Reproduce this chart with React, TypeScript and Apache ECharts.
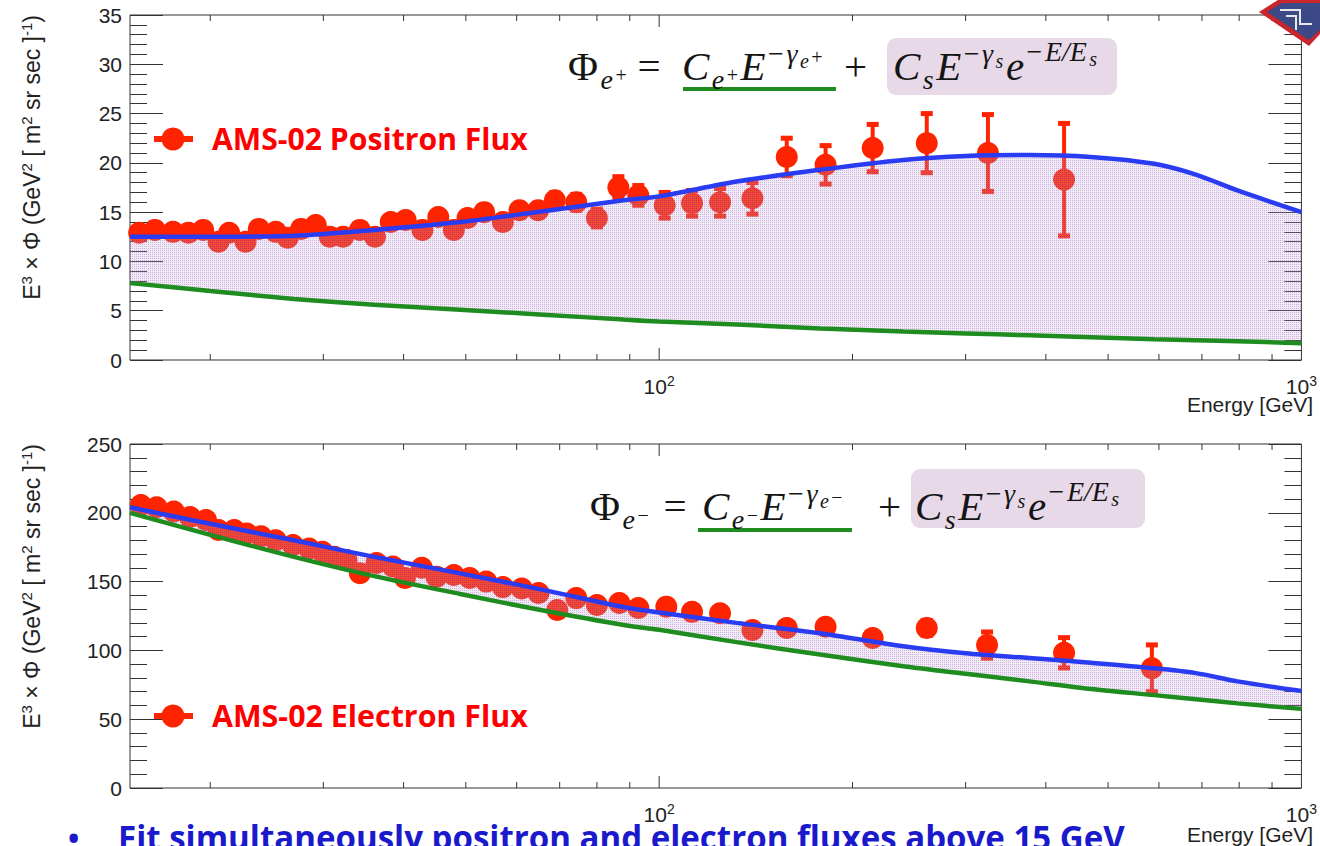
import React, { useEffect, useRef } from "react";
import * as echarts from "echarts";

// ---------------- data ----------------
const energyTicks = [20, 30, 40, 50, 60, 70, 80, 90, 100, 200, 300, 400, 500, 600, 700, 800, 900];
const energyMajorTicks = [100, 1000];
const energyLabels = [100, 1000];
const energyRange = [15, 1000];

const positronYTicks = [0, 5, 10, 15, 20, 25, 30, 35];
const electronYTicks = [0, 50, 100, 150, 200, 250];

// fit curves (sampled on a common energy grid)
const curveEnergy = [15, 20, 27, 36, 49, 66, 88, 100, 132, 178, 240, 300, 377, 470, 590, 685, 795, 1000];
const positronFitTotal = [12.5, 12.5, 12.6, 13.2, 14.0, 15.1, 16.2, 16.6, 18.1, 19.3, 20.3, 20.7, 20.8, 20.6, 19.9, 18.8, 17.2, 15.0];
const positronFitPrimary = [7.8, 7.0, 6.2, 5.6, 5.1, 4.6, 4.1, 3.9, 3.6, 3.2, 2.9, 2.7, 2.5, 2.3, 2.1, 2.0, 1.9, 1.7];
const electronFitTotal = [204, 192, 180, 168, 156, 144, 131.5, 127.5, 120, 112.5, 103, 98, 94.5, 91, 87, 83.5, 77.5, 70.5];
const electronFitPrimary = [200, 184, 168, 154, 141, 129, 118.5, 115, 106, 97, 88.5, 83, 77.5, 72, 67.5, 64.5, 61.5, 57.5];

// AMS-02 positron flux x E^3
const positronEnergy = [15.5, 16.4, 17.5, 18.5, 19.5, 20.6, 21.4, 22.7, 23.8, 25.3, 26.4, 27.7, 29.2, 30.7, 32.2, 34.2, 36.1, 38.2, 40.3, 42.8, 45.3, 47.9, 50.3, 53.4, 57.1, 60.6, 64.8, 68.8, 74.3, 80.0, 86.4, 92.8, 102, 112.5, 124.4, 139.7, 158, 181.6, 215, 261, 325, 427];
const positronFlux = [12.9, 13.2, 13.0, 12.9, 13.2, 12.0, 12.9, 12.0, 13.3, 13.0, 12.4, 13.3, 13.7, 12.5, 12.5, 13.2, 12.5, 14.0, 14.2, 13.2, 14.5, 13.2, 14.4, 15.0, 14.0, 15.2, 15.2, 16.2, 16.0, 14.4, 17.5, 16.7, 15.7, 15.9, 16.0, 16.4, 20.6, 19.8, 21.5, 22.0, 21.0, 18.3];
const positronError = [0.3, 0.3, 0.3, 0.3, 0.3, 0.3, 0.3, 0.3, 0.3, 0.35, 0.35, 0.35, 0.4, 0.4, 0.4, 0.4, 0.45, 0.45, 0.5, 0.5, 0.55, 0.55, 0.6, 0.6, 0.65, 0.7, 0.7, 0.75, 0.8, 0.9, 1.1, 1.0, 1.3, 1.3, 1.4, 1.6, 1.9, 1.95, 2.4, 3.0, 3.9, 5.7];

// AMS-02 electron flux x E^3
const electronEnergy = [15.6, 16.5, 17.55, 18.6, 19.7, 20.6, 21.8, 22.8, 24.0, 25.3, 26.9, 28.5, 29.9, 31.2, 32.6, 34.2, 36.3, 38.5, 40.2, 42.7, 45.0, 47.9, 50.7, 53.8, 57.1, 61.1, 64.9, 69.4, 74.3, 80.0, 86.7, 92.8, 102.6, 112.5, 124.4, 139.7, 158, 181.6, 215, 261, 324, 427, 585];
const electronFlux = [205.6, 204, 201, 197, 194.8, 187.5, 187.5, 185, 183, 180, 176.6, 174, 171.7, 168, 165.7, 156, 163.5, 161, 152.6, 160, 153.6, 154.8, 152.6, 150, 146, 145, 141.7, 129.4, 138, 133, 134.4, 130.8, 131.8, 128, 127, 114.8, 116.3, 117.2, 109, 116.3, 103.9, 98.3, 87];
const electronError = [0.8, 0.8, 0.8, 0.8, 0.8, 0.8, 0.8, 0.8, 0.8, 0.8, 0.9, 0.9, 0.9, 0.9, 0.9, 1.0, 1.0, 1.0, 1.0, 1.0, 1.1, 1.1, 1.1, 1.1, 1.1, 1.3, 1.3, 1.4, 1.5, 1.6, 1.8, 2.0, 2.2, 2.4, 2.6, 3.0, 3.5, 4.0, 4.5, 5.5, 9.5, 11, 17];

// ---------------- styles ----------------
const RED = "#ff2400";
const LEGEND_RED = "#ff0000";
const BLUE = "#2a3cf2";
const GREEN = "#1f8c1f";
const FRAME = "#333333";
const LABEL = "#222222";
const SANS = '"Liberation Sans", Arial, Helvetica, sans-serif';
const SERIF = '"Liberation Serif", "Times New Roman", serif';
const UI_BOLD = '"Open Sans", "Liberation Sans", sans-serif';

let measureCtx: CanvasRenderingContext2D | null = null;
function textWidth(text: string, font: string): number {
  if (!measureCtx) measureCtx = document.createElement("canvas").getContext("2d");
  measureCtx!.font = font;
  return measureCtx!.measureText(text).width;
}

function makePattern() {
  const c = document.createElement("canvas");
  c.width = 2;
  c.height = 2;
  const g = c.getContext("2d")!;
  g.fillStyle = "rgba(200,178,218,0.26)";
  g.fillRect(0, 0, 2, 2);
  g.clearRect(0, 0, 1, 1);
  g.fillStyle = "rgba(140,70,180,0.42)";
  g.fillRect(0, 0, 1, 1);
  return { image: c.toDataURL(), repeat: "repeat", imageWidth: 2, imageHeight: 2 };
}

type Piece = { t: string; s: number; it?: boolean; dy?: number };

function mathGroup(pieces: Piece[], x0: number, x1: number, base: number): any[] {
  const fontOf = (p: Piece) => `${p.it ? "italic " : ""}${p.s}px ${SERIF}`;
  const widths = pieces.map((p) => textWidth(p.t, fontOf(p)));
  const total = widths.reduce((a, b) => a + b, 0);
  let gap = 0;
  let x = x0;
  if (pieces.length > 1) {
    gap = Math.max(0, Math.min(2.5, (x1 - x0 - total) / (pieces.length - 1)));
  } else {
    x = (x0 + x1 - total) / 2;
  }
  const out: any[] = [];
  pieces.forEach((p, i) => {
    out.push({
      type: "text",
      x,
      y: base + (p.dy || 0) - 0.34 * p.s,
      z: 30,
      style: {
        text: p.t,
        fontSize: p.s,
        fontFamily: SERIF,
        fontStyle: p.it ? "italic" : "normal",
        fill: "#151515",
        align: "left",
        verticalAlign: "middle",
        textAlign: "left",
        textVerticalAlign: "middle",
      },
    });
    x += widths[i] + gap;
  });
  return out;
}

function formula(sign: string, base: number, xs: number[][]): any[] {
  const M = 41, S = 28, SS = 20;
  const A: Piece[] = [
    { t: "Φ", s: M },
    { t: "e", s: S, it: true, dy: 9 },
    { t: sign, s: SS, dy: 2 },
  ];
  const B: Piece[] = [{ t: "=", s: M }];
  const C: Piece[] = [
    { t: "C", s: M, it: true },
    { t: "e", s: S, it: true, dy: 9 },
    { t: sign, s: SS, dy: 2 },
    { t: "E", s: M, it: true },
    { t: "−", s: S, dy: -17 },
    { t: "γ", s: S, it: true, dy: -17 },
    { t: "e", s: SS, it: true, dy: -12 },
    { t: sign, s: SS, dy: -16 },
  ];
  const D: Piece[] = [{ t: "+", s: M }];
  const E: Piece[] = [
    { t: "C", s: M, it: true },
    { t: "s", s: S, it: true, dy: 9 },
    { t: "E", s: M, it: true },
    { t: "−", s: S, dy: -17 },
    { t: "γ", s: S, it: true, dy: -17 },
    { t: "s", s: SS, it: true, dy: -12 },
    { t: "e", s: M, it: true },
    { t: "−", s: S, dy: -19 },
    { t: "E/E", s: S, it: true, dy: -19 },
    { t: "s", s: SS, it: true, dy: -14 },
  ];
  const groups = [A, B, C, D, E];
  let out: any[] = [];
  groups.forEach((g, i) => {
    out = out.concat(mathGroup(g, xs[i][0], xs[i][1], base));
  });
  return out;
}

function fitFont(text: string, weight: string, family: string, target: number, lo: number, hi: number) {
  const w = textWidth(text, `${weight} 30px ${family}`);
  const s = (30 * target) / w;
  return Math.max(lo, Math.min(hi, s));
}

function yTitle(yTop: number): any {
  return {
    type: "text",
    x: 32,
    y: yTop,
    rotation: Math.PI / 2,
    z: 30,
    style: {
      text: "{n|E}{s|3}{n| × Φ (GeV}{s|2}{n| [ m}{s|2}{n| sr sec ]}{s|-1}{n|)}",
      align: "right",
      verticalAlign: "middle",
      textAlign: "right",
      textVerticalAlign: "middle",
      fill: LABEL,
      rich: {
        n: { fontSize: 23, fontFamily: SANS, fill: LABEL, color: LABEL, lineHeight: 27 },
        s: { fontSize: 15, fontFamily: SANS, fill: LABEL, color: LABEL, lineHeight: 16, verticalAlign: "top" },
      },
    },
  };
}

function legend(cy: number, label: string): any[] {
  const size = fitFont(label, "bold", UI_BOLD, 316, 24, 34);
  return [
    { type: "line", z: 30, shape: { x1: 154, y1: cy, x2: 193, y2: cy }, style: { stroke: RED, lineWidth: 6 } },
    { type: "circle", z: 31, shape: { cx: 173, cy, r: 11.5 }, style: { fill: RED } },
    {
      type: "text",
      x: 212,
      y: cy - 1,
      z: 30,
      style: {
        text: label,
        fontSize: size,
        fontWeight: "bold",
        fontFamily: UI_BOLD,
        fill: LEGEND_RED,
        align: "left",
        verticalAlign: "middle",
        textAlign: "left",
        textVerticalAlign: "middle",
      },
    },
  ];
}

function energyTitle(cy: number): any {
  return {
    type: "text",
    x: 1313,
    y: cy,
    z: 30,
    style: {
      text: "Energy [GeV]",
      fontSize: 21,
      fontFamily: SANS,
      fill: LABEL,
      align: "right",
      verticalAlign: "middle",
      textAlign: "right",
      textVerticalAlign: "middle",
    },
  };
}

function buildOption() {
  const pattern = makePattern();
  const panels = [
    {
      grid: { left: 130, top: 15, width: 1182, height: 345 },
      yTicks: positronYTicks,
      energy: positronEnergy,
      flux: positronFlux,
      err: positronError,
      total: positronFitTotal,
      primary: positronFitPrimary,
    },
    {
      grid: { left: 130, top: 444, width: 1182, height: 344 },
      yTicks: electronYTicks,
      energy: electronEnergy,
      flux: electronFlux,
      err: electronError,
      total: electronFitTotal,
      primary: electronFitPrimary,
    },
  ];

  const grid: any[] = [];
  const xAxis: any[] = [];
  const yAxis: any[] = [];
  const series: any[] = [];

  panels.forEach((p, i) => {
    grid.push({ ...p.grid, show: true, borderColor: FRAME, borderWidth: 1, backgroundColor: "transparent", containLabel: false });
    xAxis.push({
      type: "log",
      logBase: 10,
      gridIndex: i,
      min: energyRange[0],
      max: energyRange[1],
      axisLine: { show: false },
      axisTick: { show: false },
      minorTick: { show: false },
      splitLine: { show: false },
      axisLabel: {
        margin: 14,
        showMinLabel: false,
        formatter: (v: number) => {
          const k = energyLabels.findIndex((l) => Math.abs(l - v) / l < 1e-6);
          if (k < 0) return "";
          return `{a|10}{b|${Math.round(Math.log10(energyLabels[k]))}}`;
        },
        rich: {
          a: { fontSize: 21, fontFamily: SANS, color: LABEL, lineHeight: 24 },
          b: { fontSize: 14, fontFamily: SANS, color: LABEL, lineHeight: 14, verticalAlign: "top" },
        },
      },
    });
    const yMin = p.yTicks[0];
    const yMax = p.yTicks[p.yTicks.length - 1];
    const yStep = p.yTicks[1] - p.yTicks[0];
    ["left", "right"].forEach((pos) => {
      yAxis.push({
        type: "value",
        gridIndex: i,
        position: pos,
        min: yMin,
        max: yMax,
        interval: yStep,
        axisLine: { show: false },
        splitLine: { show: false },
        axisTick: { show: true, inside: true, length: 33, lineStyle: { color: FRAME, width: 1 } },
        minorTick: { show: true, splitNumber: 5, length: 17, lineStyle: { color: FRAME, width: 1 } },
        axisLabel: { show: pos === "left", margin: 8, fontSize: 21, fontFamily: SANS, color: LABEL },
      });
    });
    const yIdx = i * 2;

    // x ticks on bottom and top edges of the frame
    series.push({
      type: "custom",
      xAxisIndex: i,
      yAxisIndex: yIdx,
      silent: true,
      z: 10,
      clip: false,
      data: energyTicks.map((v) => [v, yMin]),
      renderItem: (params: any, api: any) => {
        const v = api.value(0);
        const cs = params.coordSys;
        const x = api.coord([v, yMin])[0];
        const len = energyMajorTicks.indexOf(v) >= 0 ? 12 : 6;
        const yb = cs.y + cs.height;
        const yt = cs.y;
        const st = { stroke: FRAME, lineWidth: 1 };
        return {
          type: "group",
          children: [
            { type: "line", shape: { x1: x, y1: yb, x2: x, y2: yb - len }, style: st },
            { type: "line", shape: { x1: x, y1: yt, x2: x, y2: yt + len }, style: st },
          ],
        };
      },
    });

    // error bars
    series.push({
      type: "custom",
      xAxisIndex: i,
      yAxisIndex: yIdx,
      z: 2,
      data: p.energy.map((e, k) => [e, p.flux[k], p.err[k]]),
      renderItem: (params: any, api: any) => {
        const e = api.value(0);
        const v = api.value(1);
        const er = api.value(2);
        const top = api.coord([e, v + er]);
        const bot = api.coord([e, v - er]);
        const x = top[0];
        const st = { stroke: RED, lineWidth: 4 };
        return {
          type: "group",
          children: [
            { type: "line", shape: { x1: x, y1: top[1], x2: x, y2: bot[1] }, style: st },
            { type: "line", shape: { x1: x - 6, y1: top[1], x2: x + 6, y2: top[1] }, style: { stroke: RED, lineWidth: 5 } },
            { type: "line", shape: { x1: x - 6, y1: bot[1], x2: x + 6, y2: bot[1] }, style: { stroke: RED, lineWidth: 5 } },
          ],
        };
      },
    });

    // data markers
    series.push({
      type: "scatter",
      xAxisIndex: i,
      yAxisIndex: yIdx,
      z: 3,
      symbol: "circle",
      symbolSize: 22,
      itemStyle: { color: RED, opacity: 1 },
      data: p.energy.map((e, k) => [e, p.flux[k]]),
    });

    // source-term band between the two fit curves
    const total = p.total;
    const primary = p.primary;
    series.push({
      type: "custom",
      xAxisIndex: i,
      yAxisIndex: yIdx,
      z: 4,
      silent: true,
      data: curveEnergy.map((e, k) => [e, primary[k], total[k]]),
      renderItem: (params: any, api: any) => {
        if (params.dataIndex !== 0) return null;
        const pts: number[][] = [];
        for (let k = 0; k < curveEnergy.length; k++) pts.push(api.coord([curveEnergy[k], total[k]]));
        for (let k = curveEnergy.length - 1; k >= 0; k--) pts.push(api.coord([curveEnergy[k], primary[k]]));
        return { type: "polygon", shape: { points: pts, smooth: 0 }, style: { fill: pattern as any } };
      },
    });

    series.push({
      type: "line",
      xAxisIndex: i,
      yAxisIndex: yIdx,
      z: 5,
      symbol: "none",
      smooth: 0.3,
      lineStyle: { color: GREEN, width: 4.5 },
      data: curveEnergy.map((e, k) => [e, primary[k]]),
    });
    series.push({
      type: "line",
      xAxisIndex: i,
      yAxisIndex: yIdx,
      z: 5,
      symbol: "none",
      smooth: 0.3,
      lineStyle: { color: BLUE, width: 4.5 },
      data: curveEnergy.map((e, k) => [e, total[k]]),
    });
  });

  const bulletText = "Fit simultaneously positron and electron fluxes above 15 GeV";
  const bulletSize = fitFont(bulletText, "bold", UI_BOLD, 1007, 26, 34);

  const graphic: any[] = [
    // formula backgrounds and underlines
    { type: "rect", z: 20, shape: { x: 887, y: 38, width: 230, height: 57, r: 9 }, style: { fill: "#e8d9e8" } },
    { type: "rect", z: 20, shape: { x: 911, y: 469, width: 234, height: 59, r: 9 }, style: { fill: "#e8d9e8" } },
    { type: "line", z: 21, shape: { x1: 683, y1: 89, x2: 836, y2: 89 }, style: { stroke: GREEN, lineWidth: 4 } },
    { type: "line", z: 21, shape: { x1: 698, y1: 530, x2: 852, y2: 530 }, style: { stroke: GREEN, lineWidth: 4 } },
    ...formula("+", 80, [[568, 627], [636, 662], [682, 836], [841, 870], [893, 1100]]),
    ...formula("−", 520, [[590, 650], [660, 690], [702, 854], [875, 904], [915, 1140]]),
    yTitle(15),
    yTitle(444),
    energyTitle(404),
    energyTitle(834),
    ...legend(139, "AMS-02 Positron Flux"),
    ...legend(716, "AMS-02 Electron Flux"),
    // small logo in the corner
    { type: "polygon", z: 30, shape: { points: [[1259, 12], [1278, 0], [1320, 0], [1320, 34], [1309, 46]] }, style: { fill: "#c8262a" } },
    { type: "polygon", z: 31, shape: { points: [[1267, 12], [1282, 3], [1320, 3], [1320, 30], [1309, 40]] }, style: { fill: "#3b4a86" } },
    { type: "polyline", z: 32, shape: { points: [[1280, 10], [1300, 10], [1300, 24], [1312, 24]] }, style: { stroke: "#e8e8e8", lineWidth: 2, fill: "none" } },
    { type: "polyline", z: 32, shape: { points: [[1286, 16], [1296, 16], [1296, 30]] }, style: { stroke: "#e8e8e8", lineWidth: 2, fill: "none" } },
    // bottom bullet line (cut by the page edge, as in the reference)
    {
      type: "text",
      x: 68,
      y: 837,
      z: 30,
      style: { text: "•", fontSize: 30, fontWeight: "bold", fontFamily: UI_BOLD, fill: "#1a1acc", align: "left", verticalAlign: "middle", textAlign: "left", textVerticalAlign: "middle" },
    },
    {
      type: "text",
      x: 118,
      y: 837,
      z: 30,
      style: { text: bulletText, fontSize: bulletSize, fontWeight: "bold", fontFamily: UI_BOLD, fill: "#1a1acc", align: "left", verticalAlign: "middle", textAlign: "left", textVerticalAlign: "middle" },
    },
  ];

  return {
    animation: false,
    backgroundColor: "#ffffff",
    grid,
    xAxis,
    yAxis,
    series,
    graphic,
  };
}

export default function App() {
  const ref = useRef<HTMLDivElement>(null);
  useEffect(() => {
    const chart = echarts.init(ref.current!, undefined, { renderer: "svg" });
    chart.setOption(buildOption() as any);
    return () => chart.dispose();
  }, []);
  return (
    <div
      ref={ref}
      style={{ position: "fixed", left: 0, top: 0, width: 1320, height: 846, background: "#ffffff" }}
    />
  );
}
